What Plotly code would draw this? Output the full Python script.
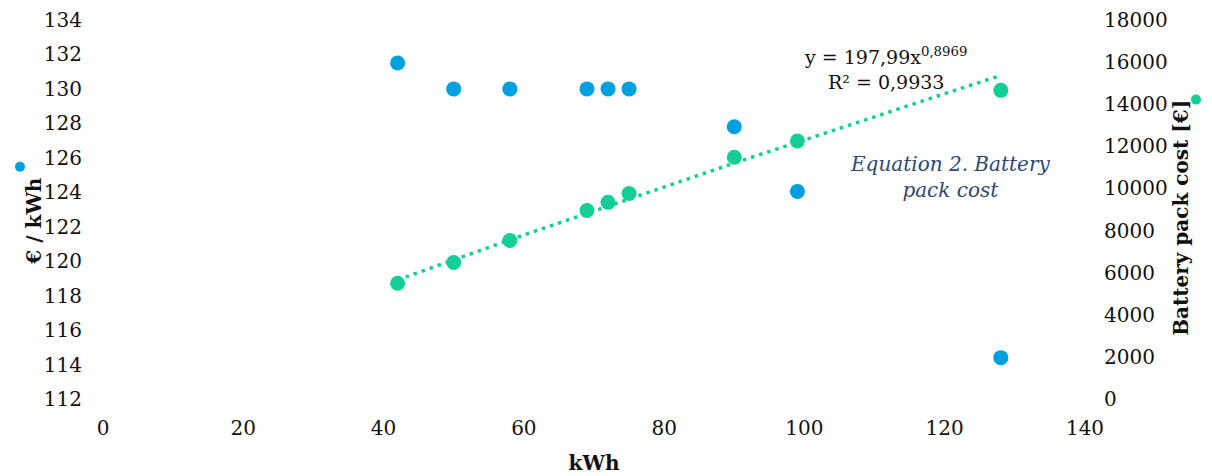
import numpy as np
import plotly.graph_objects as go

# Data
kwh = [42, 50, 58, 69, 72, 75, 90, 99, 128]
eur_per_kwh = [131.5, 130, 130, 130, 130, 130, 127.8, 124.05, 114.4]
pack_cost = [5500, 6480, 7530, 8950, 9340, 9760, 11480, 12250, 14660]

x_ticks = [0, 20, 40, 60, 80, 100, 120, 140]
left_ticks = list(range(112, 135, 2))
right_ticks = list(range(0, 18001, 2000))
right_tick_text = [str(v) for v in right_ticks]

# Power trendline coefficients (as printed on chart)
coef_a = 197.99
coef_b = 0.8969

BLUE = "#009fde"
GREEN = "#13cf97"
NAVY = "#2b4877"
FONT = "DejaVu Serif"

trend_x = np.linspace(min(kwh), max(kwh), 200)
trend_y = coef_a * trend_x ** coef_b

fig = go.Figure()
fig.add_trace(go.Scatter(x=kwh, y=eur_per_kwh, mode="markers",
                         marker=dict(color=BLUE, size=15), yaxis="y", showlegend=False))
fig.add_trace(go.Scatter(x=trend_x, y=trend_y, mode="lines",
                         line=dict(color=GREEN, width=3.5, dash="3.5px,5px"),
                         yaxis="y2", showlegend=False))
fig.add_trace(go.Scatter(x=kwh, y=pack_cost, mode="markers",
                         marker=dict(color=GREEN, size=15), yaxis="y2", showlegend=False))

tickfont = dict(family=FONT, size=20, color="#111")

fig.update_layout(
    width=1212, height=476,
    margin=dict(l=103, r=127, t=20, b=77),
    paper_bgcolor="white", plot_bgcolor="white",
    font=dict(family=FONT, size=20, color="#111"),
    xaxis=dict(range=[0, 140], tickvals=x_ticks, showgrid=False, zeroline=False,
               showline=False, ticks="", tickfont=tickfont, ticklabelstandoff=15,
               automargin=False,
               title=dict(text="<b>kWh</b>", font=dict(family=FONT, size=20), standoff=16)),
    yaxis=dict(range=[112, 134], tickvals=left_ticks, showgrid=False, zeroline=False,
               showline=False, ticks="", tickfont=tickfont, ticklabelstandoff=20,
               automargin=False),
    yaxis2=dict(range=[0, 18000], tickvals=right_ticks, ticktext=right_tick_text,
                overlaying="y", side="right", automargin=False,
                showgrid=False, zeroline=False, showline=False, ticks="",
                tickfont=tickfont, ticklabelstandoff=18),
)

# Axis titles (Excel style, with series key dots)
fig.add_annotation(xref="paper", yref="paper", x=0, y=0.468, xshift=-83,
                   text="<b>€ / kWh</b>", textangle=-90, showarrow=False,
                   font=dict(family=FONT, size=20, color="#111"))
fig.add_annotation(xref="paper", yref="paper", x=1, y=0.478, xshift=110,
                   text="<b>Battery pack cost [€]</b>", textangle=-90, showarrow=False,
                   font=dict(family=FONT, size=20, color="#111"))
fig.add_shape(type="circle", xref="paper", yref="paper", xsizemode="pixel", ysizemode="pixel",
              xanchor=0, yanchor=0.613, x0=-88, x1=-78, y0=-5, y1=5,
              fillcolor=BLUE, line=dict(width=0))
fig.add_shape(type="circle", xref="paper", yref="paper", xsizemode="pixel", ysizemode="pixel",
              xanchor=1, yanchor=0.79, x0=106, x1=116, y0=-5, y1=5,
              fillcolor=GREEN, line=dict(width=0))

fig.add_annotation(xref="x", yref="y", x=111.5, y=131.2,
                   text="y = 197,99x<sup>0,8969</sup><br>R² = 0,9933",
                   showarrow=False, align="center", font=dict(family=FONT, size=19, color="#111"))
fig.add_annotation(xref="x", yref="y", x=120.8, y=124.9,
                   text="<i>Equation 2. Battery<br>pack cost</i>",
                   showarrow=False, align="center", font=dict(family=FONT, size=20, color=NAVY))

fig.write_html("out.html")
